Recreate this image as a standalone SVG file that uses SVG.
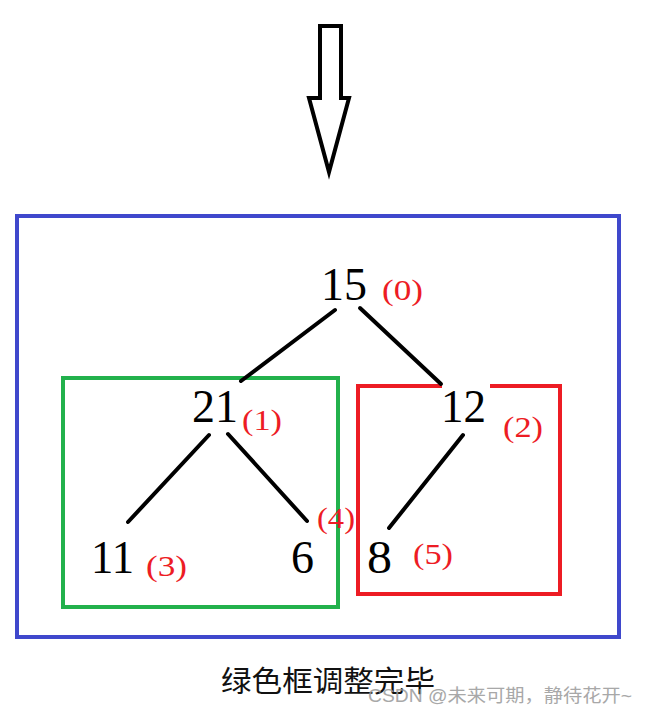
<svg xmlns="http://www.w3.org/2000/svg" width="647" height="714" viewBox="0 0 647 714">
<style>
.num{font-family:"Liberation Serif","DejaVu Serif",serif;font-size:46px;fill:#000}
.idx{font-family:"Liberation Serif","DejaVu Serif",serif;font-size:30px;fill:#ed1c24}
.edge{stroke:#000;stroke-width:4;stroke-linecap:round;fill:none}
.cap{font-family:"Noto Sans CJK SC",sans-serif;font-size:29px;fill:#111}
.wm{font-family:"Liberation Sans","Noto Sans CJK SC",sans-serif;font-size:18px;fill:#999;opacity:0.85}
</style>
<rect width="647" height="714" fill="#fff"/>
<g id="arrow">
<polygon points="320,26 341,26 341,98 349,98 329,172 309,98 320,98" fill="#fff" stroke="#000" stroke-width="4" stroke-linejoin="miter"/>
</g>
<g id="frame-blue"><rect x="17" y="216" width="602" height="421" fill="none" stroke="#3f48cc" stroke-width="4"/></g>
<g id="frame-green"><rect x="63" y="378" width="275" height="229" fill="none" stroke="#22b14c" stroke-width="4"/></g>
<g id="frame-red"><rect x="358" y="386" width="202" height="208" fill="none" stroke="#ed1c24" stroke-width="4"/>
<rect x="442" y="383" width="48" height="6" fill="#fff"/></g>
<g id="connectors">
<line class="edge" x1="335" y1="310" x2="241" y2="381"/>
<line class="edge" x1="360" y1="308" x2="441" y2="384"/>
<line class="edge" x1="209" y1="435" x2="128" y2="522"/>
<line class="edge" x1="228" y1="434" x2="307" y2="521"/>
<line class="edge" x1="463" y1="435" x2="389" y2="528"/>
</g>
<g id="n0"><text class="num" x="321" y="300" textLength="46" lengthAdjust="spacingAndGlyphs">15</text><text class="idx" x="382" y="300" textLength="41" lengthAdjust="spacingAndGlyphs">(0)</text></g>
<g id="n1"><text class="num" x="192" y="422" textLength="46" lengthAdjust="spacingAndGlyphs">21</text><text class="idx" x="242" y="430" textLength="40" lengthAdjust="spacingAndGlyphs">(1)</text></g>
<g id="n2"><text class="num" x="441" y="422" textLength="45" lengthAdjust="spacingAndGlyphs">12</text><text class="idx" x="503" y="437" textLength="40" lengthAdjust="spacingAndGlyphs">(2)</text></g>
<g id="n3"><text class="num" x="91" y="573" textLength="43" lengthAdjust="spacingAndGlyphs">11</text><text class="idx" x="146" y="576" textLength="41" lengthAdjust="spacingAndGlyphs">(3)</text></g>
<g id="n4"><text class="num" x="291" y="573" textLength="23" lengthAdjust="spacingAndGlyphs">6</text><text class="idx" x="317" y="528" textLength="38" lengthAdjust="spacingAndGlyphs">(4)</text></g>
<g id="n5"><text class="num" x="367" y="573" textLength="25" lengthAdjust="spacingAndGlyphs">8</text><text class="idx" x="413" y="564" textLength="40" lengthAdjust="spacingAndGlyphs">(5)</text></g>
<g id="caption"><text class="cap" x="221" y="692" textLength="214" lengthAdjust="spacingAndGlyphs">绿色框调整完毕</text></g>
<g id="watermark"><text class="wm" x="368" y="702" textLength="264" lengthAdjust="spacingAndGlyphs">CSDN @未来可期，静待花开~</text></g>
</svg>
